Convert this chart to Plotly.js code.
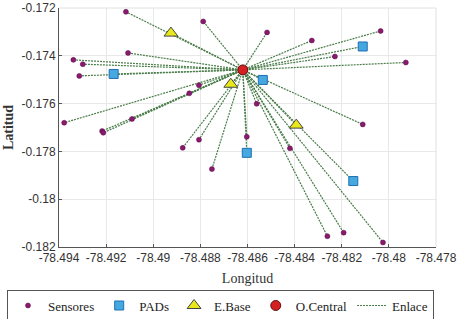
<!DOCTYPE html>
<html><head><meta charset="utf-8">
<script src="https://cdn.plot.ly/plotly-3.0.1.min.js"></script>
<style>html,body{margin:0;padding:0;background:#fff}#chart{width:461px;height:319px}</style>
</head><body><div id="chart"></div>
<script>
const centralLon = [-78.4862];
const centralLat = [-0.17459];
const sensorLon = [-78.49116,-78.48788,-78.49107,-78.49339,-78.49299,-78.49314,-78.48806,-78.48847,-78.49378,-78.49217,-78.49212,-78.4909,-78.48806,-78.48875,-78.48751,-78.48517,-78.48035,-78.48327,-78.48229,-78.47928,-78.48561,-78.48111,-78.48603,-78.4842,-78.48261,-78.48192,-78.48025];
const sensorLat = [-0.17216,-0.17256,-0.17388,-0.17417,-0.17435,-0.17484,-0.17523,-0.17557,-0.1768,-0.17715,-0.17722,-0.17664,-0.17751,-0.17785,-0.17874,-0.17302,-0.17296,-0.17336,-0.17403,-0.17428,-0.17601,-0.17687,-0.17739,-0.17787,-0.18155,-0.1814,-0.18181];
const padLon = [-78.49168,-78.48111,-78.48535,-78.48603,-78.48151];
const padLat = [-0.17476,-0.17361,-0.17501,-0.17806,-0.17924];
const baseLon = [-78.48925,-78.48671,-78.48393];
const baseLat = [-0.17305,-0.17519,-0.1769];
const xTicks = [-78.494,-78.492,-78.49,-78.488,-78.486,-78.484,-78.482,-78.48,-78.478];
const xTickText = ['-78.494','-78.492','-78.49','-78.488','-78.486','-78.484','-78.482','-78.48','-78.478'];
const yTicks = [-0.172,-0.174,-0.176,-0.178,-0.18,-0.182];
const yTickText = ['-0.172','-0.174','-0.176','-0.178','-0.18','-0.182'];

// links from central office to every node
const linkX = [], linkY = [];
const allLon = sensorLon.concat(padLon, baseLon);
const allLat = sensorLat.concat(padLat, baseLat);
for (let i = 0; i < allLon.length; i++) {
  linkX.push(centralLon[0], allLon[i], null);
  linkY.push(centralLat[0], allLat[i], null);
}

const serif = 'Liberation Serif, Times New Roman, serif';
const data = [
  {x: linkX, y: linkY, mode: 'lines', name: 'Enlace', legendrank: 5,
   line: {color: '#4a7d4a', width: 1.2, dash: '2px,1px'}},
  {x: sensorLon, y: sensorLat, mode: 'markers', name: 'Sensores', legendrank: 1,
   marker: {color: '#8a1a6e', size: 5, line: {color: '#5a0a48', width: 0.5}}},
  {x: padLon, y: padLat, mode: 'markers', name: 'PADs', legendrank: 2,
   marker: {symbol: 'square', color: '#45a8e0', size: 9, line: {color: '#1f6fb0', width: 1}}},
  {x: baseLon, y: baseLat, mode: 'markers', name: 'E.Base', legendrank: 3,
   marker: {symbol: 'triangle-up', color: '#e8e81a', size: 12, line: {color: '#444', width: 1}}},
  {x: centralLon, y: centralLat, mode: 'markers', name: 'O.Central', legendrank: 4,
   marker: {symbol: 'circle', color: '#d42020', size: 10, line: {color: '#5a1010', width: 1}}}
];

const layout = {
  width: 461, height: 319,
  margin: {l: 59, r: 25, t: 8, b: 72, autoexpand: false},
  paper_bgcolor: '#fff', plot_bgcolor: '#fff',
  showlegend: true,
  font: {family: 'Liberation Sans, Arial, sans-serif', size: 12, color: '#333'},
  xaxis: {
    range: [-78.494, -78.478], tickvals: xTicks, ticktext: xTickText,
    showgrid: true, gridcolor: '#e8e8e8', zeroline: false,
    showline: true, linecolor: '#555', linewidth: 1, mirror: false,
    ticks: 'inside', ticklen: 3, tickcolor: '#555',
    title: {text: 'Longitud', font: {family: serif, size: 14, color: '#333'}, standoff: 8}
  },
  yaxis: {
    range: [-0.182, -0.172], tickvals: yTicks, ticktext: yTickText,
    showgrid: true, gridcolor: '#e8e8e8', zeroline: false,
    showline: true, linecolor: '#555', linewidth: 1,
    ticks: 'inside', ticklen: 3, tickcolor: '#555',
    title: {text: '<b>Latitud</b>', font: {family: serif, size: 14, color: '#333'}, standoff: 4}
  },
  shapes: [
    {type: 'line', xref: 'paper', yref: 'paper', x0: 0, x1: 1, y0: 1, y1: 1, line: {color: '#e0e0e0', width: 1}},
    {type: 'line', xref: 'paper', yref: 'paper', x0: 1, x1: 1, y0: 0, y1: 1, line: {color: '#e0e0e0', width: 1}}
  ],
  legend: {
    orientation: 'h',
    x: -0.138, xanchor: 'left', y: -0.178, yanchor: 'top',
    bordercolor: '#555', borderwidth: 1, bgcolor: '#fff',
    font: {family: serif, size: 13, color: '#222'},
    traceorder: 'normal', itemwidth: 30
  }
};

Plotly.newPlot('chart', data, layout, {displayModeBar: false, staticPlot: true});
</script></body></html>
